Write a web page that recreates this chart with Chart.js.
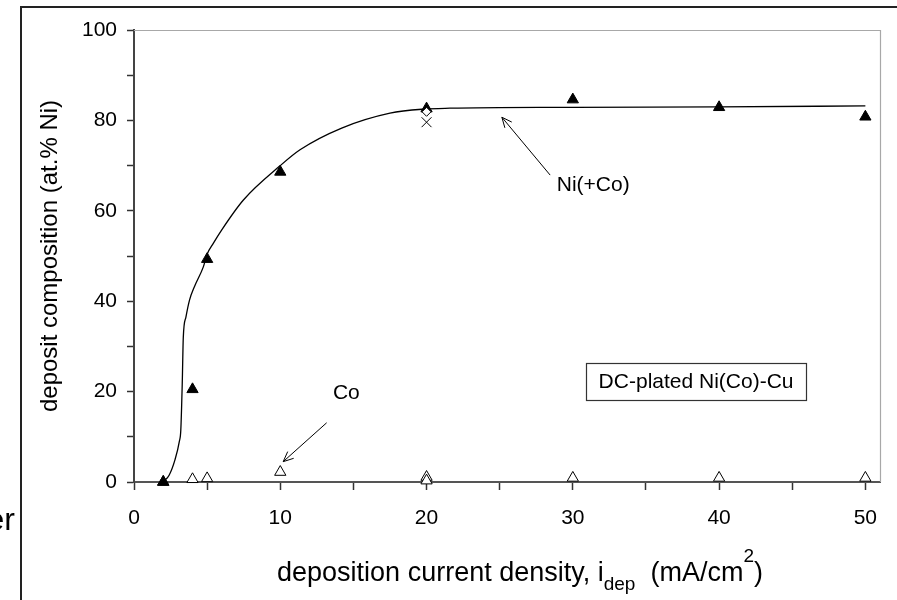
<!DOCTYPE html>
<html>
<head>
<meta charset="utf-8">
<script src="https://cdn.jsdelivr.net/npm/chart.js@4"></script>
<style>
  html, body { margin: 0; padding: 0; background: #fff; }
  #wrap { width: 897px; height: 600px; }
</style>
</head>
<body>
<div id="wrap"><canvas id="c" width="897" height="600"></canvas></div>
<script>
// Ni content of the deposit (filled triangles)
const niX = [2, 4, 5, 10, 20, 30, 40, 50];
const niY = [0, 20.5, 49.3, 68.6, 82.6, 84.6, 82.9, 80.8];

// Co content of the deposit (open triangles)
const coX = [2, 4, 5, 10, 20, 20, 30, 40, 50];
const coY = [0, 0.6, 0.8, 2.2, 1.1, 0.3, 0.9, 0.9, 0.9];

// extra measurements at 20 mA/cm2
const diamondX = [20];
const diamondY = [81.9];
const crossX = [20];
const crossY = [79.6];

// trend line drawn through the Ni(+Co) data
const fitX = [2.0, 2.4, 2.8, 3.1, 3.2, 3.3, 3.37, 3.55, 3.8, 4.13, 4.74, 5.0, 5.42, 6.0, 7.48, 10, 11.35, 14.2, 17.5, 19.8, 21.6, 30, 40, 50];
const fitY = [0, 1.5, 4.9, 9, 11.5, 22, 32, 36.5, 40.3, 43.2, 47.6, 50.4, 52.8, 55.8, 62.4, 70, 73.5, 78.3, 81.6, 82.5, 82.7, 82.9, 83.0, 83.2];

// axis ticks
const xTickValues = [0, 5, 10, 15, 20, 25, 30, 35, 40, 45, 50];
const xLabelEvery = 10;
const yTickValues = [0, 10, 20, 30, 40, 50, 60, 70, 80, 90, 100];
const yLabelEvery = 20;

// callouts (tail and head of each arrow, in data units) and their labels
const niArrow = [28.45, 67.9, 25.15, 80.7];
const niLabel = ['Ni(+Co)', 28.9, 65.75];
const coArrow = [13.17, 13.1, 10.2, 4.5];
const coLabel = ['Co', 13.6, 19.7];
const boxText = 'DC-plated Ni(Co)-Cu';
const boxCorners = [30.9, 26.4, 45.95, 18.2];

const FONT = '"Liberation Sans", Arial, Helvetica, sans-serif';

const pts = (xs, ys) => xs.map((x, i) => ({ x: x, y: ys[i] }));

function arrow(ctx, x0, y0, x1, y1) {
  const a = Math.atan2(y1 - y0, x1 - x0);
  const L = 11, w = 0.42;
  ctx.beginPath();
  ctx.moveTo(x0, y0);
  ctx.lineTo(x1, y1);
  ctx.moveTo(x1 - L * Math.cos(a - w), y1 - L * Math.sin(a - w));
  ctx.lineTo(x1, y1);
  ctx.lineTo(x1 - L * Math.cos(a + w), y1 - L * Math.sin(a + w));
  ctx.stroke();
}

const extras = {
  id: 'extras',
  afterDraw(chart) {
    const ctx = chart.ctx;
    const xs = chart.scales.x, ys = chart.scales.y;
    const ca = chart.chartArea;
    const px = v => xs.getPixelForValue(v);
    const py = v => ys.getPixelForValue(v);
    ctx.save();

    // light frame on top and right of the plot
    ctx.strokeStyle = '#a8a8a8';
    ctx.lineWidth = 1.2;
    ctx.beginPath();
    ctx.moveTo(ca.left, ca.top + 0.5);
    ctx.lineTo(ca.right + 0.5, ca.top + 0.5);
    ctx.lineTo(ca.right + 0.5, ca.bottom);
    ctx.stroke();

    // figure frame
    ctx.strokeStyle = '#222';
    ctx.lineWidth = 2;
    ctx.beginPath();
    ctx.moveTo(21, 600);
    ctx.lineTo(21, 7);
    ctx.lineTo(897, 7);
    ctx.stroke();

    // fragment of the neighbouring panel's text
    ctx.fillStyle = '#000';
    ctx.font = '32px ' + FONT;
    ctx.textAlign = 'right';
    ctx.textBaseline = 'alphabetic';
    ctx.fillText('er', 15, 530);

    // x axis title with subscript and superscript
    const big = '27px ' + FONT, small = '19px ' + FONT;
    const parts = [
      ['deposition current density, i', big, 0],
      ['dep', small, 9],
      ['  (mA/cm', big, 0],
      ['2', small, -19],
      [')', big, 0]
    ];
    let total = 0;
    parts.forEach(p => { ctx.font = p[1]; total += ctx.measureText(p[0]).width; });
    let cx = 520 - total / 2;
    const base = 581;
    ctx.textAlign = 'left';
    parts.forEach(p => {
      ctx.font = p[1];
      ctx.fillText(p[0], cx, base + p[2]);
      cx += ctx.measureText(p[0]).width;
    });

    // callout arrows and labels
    ctx.strokeStyle = '#000';
    ctx.lineWidth = 1;
    arrow(ctx, px(niArrow[0]), py(niArrow[1]), px(niArrow[2]), py(niArrow[3]));
    arrow(ctx, px(coArrow[0]), py(coArrow[1]), px(coArrow[2]), py(coArrow[3]));
    ctx.font = '21px ' + FONT;
    ctx.textBaseline = 'middle';
    ctx.fillText(niLabel[0], px(niLabel[1]), py(niLabel[2]));
    ctx.fillText(coLabel[0], px(coLabel[1]), py(coLabel[2]));

    // labelled box
    const bx0 = px(boxCorners[0]), by0 = py(boxCorners[1]);
    const bx1 = px(boxCorners[2]), by1 = py(boxCorners[3]);
    ctx.strokeStyle = '#333';
    ctx.lineWidth = 1.2;
    ctx.strokeRect(Math.round(bx0) + 0.5, Math.round(by0) + 0.5, Math.round(bx1 - bx0), Math.round(by1 - by0));
    ctx.textAlign = 'center';
    ctx.fillText(boxText, (bx0 + bx1) / 2, (by0 + by1) / 2 + 1);

    ctx.restore();
  }
};

new Chart(document.getElementById('c'), {
  type: 'scatter',
  data: {
    datasets: [
      {
        label: 'Ni',
        data: pts(niX, niY),
        pointStyle: 'triangle',
        pointRadius: 6.5,
        backgroundColor: '#000',
        borderColor: '#000',
        borderWidth: 1,
        showLine: false,
        clip: false,
        order: 1
      },
      {
        label: 'Co',
        data: pts(coX, coY),
        pointStyle: 'triangle',
        pointRadius: 6.5,
        backgroundColor: '#fff',
        borderColor: '#000',
        borderWidth: 1,
        showLine: false,
        clip: false,
        order: 2
      },
      {
        label: 'diamond',
        data: pts(diamondX, diamondY),
        pointStyle: 'rectRot',
        pointRadius: 4.5,
        backgroundColor: '#fff',
        borderColor: '#000',
        borderWidth: 1,
        showLine: false,
        clip: false,
        order: 0
      },
      {
        label: 'cross',
        data: pts(crossX, crossY),
        pointStyle: 'crossRot',
        pointRadius: 7,
        backgroundColor: '#000',
        borderColor: '#000',
        borderWidth: 1,
        showLine: false,
        clip: false,
        order: 0
      },
      {
        label: 'fit',
        data: pts(fitX, fitY),
        showLine: true,
        pointRadius: 0,
        borderColor: '#000',
        borderWidth: 1.3,
        cubicInterpolationMode: 'monotone',
        fill: false,
        clip: false,
        order: 5
      }
    ]
  },
  options: {
    responsive: false,
    animation: false,
    events: [],
    layout: { padding: { left: 0, top: 30, right: 17, bottom: 0 } },
    plugins: { legend: { display: false }, tooltip: { enabled: false } },
    scales: {
      x: {
        type: 'linear',
        min: 0,
        max: 51,
        afterBuildTicks: s => { s.ticks = xTickValues.map(v => ({ value: v })); },
        afterFit: s => { s.height = 118; },
        ticks: {
          autoSkip: false,
          maxRotation: 0,
          padding: 16,
          color: '#000',
          font: { family: FONT, size: 21 },
          callback: v => (v % xLabelEvery === 0 ? String(v) : '')
        },
        grid: { drawOnChartArea: false, drawTicks: true, tickLength: 8, tickWidth: 1.5, tickColor: '#333' },
        border: { display: true, color: '#555', width: 2 }
      },
      y: {
        type: 'linear',
        min: 0,
        max: 100,
        afterBuildTicks: s => { s.ticks = yTickValues.map(v => ({ value: v })); },
        afterFit: s => { s.width = 134; },
        ticks: {
          autoSkip: false,
          padding: 10,
          color: '#000',
          font: { family: FONT, size: 21 },
          callback: v => (v % yLabelEvery === 0 ? String(v) : '')
        },
        grid: { drawOnChartArea: false, drawTicks: true, tickLength: 7, tickWidth: 1.5, tickColor: '#333' },
        border: { display: true, color: '#444', width: 2 },
        title: {
          display: true,
          text: 'deposit composition (at.% Ni)',
          color: '#000',
          font: { family: FONT, size: 24 },
          padding: { top: 36, bottom: 0 }
        }
      }
    }
  },
  plugins: [extras]
});
</script>
</body>
</html>
